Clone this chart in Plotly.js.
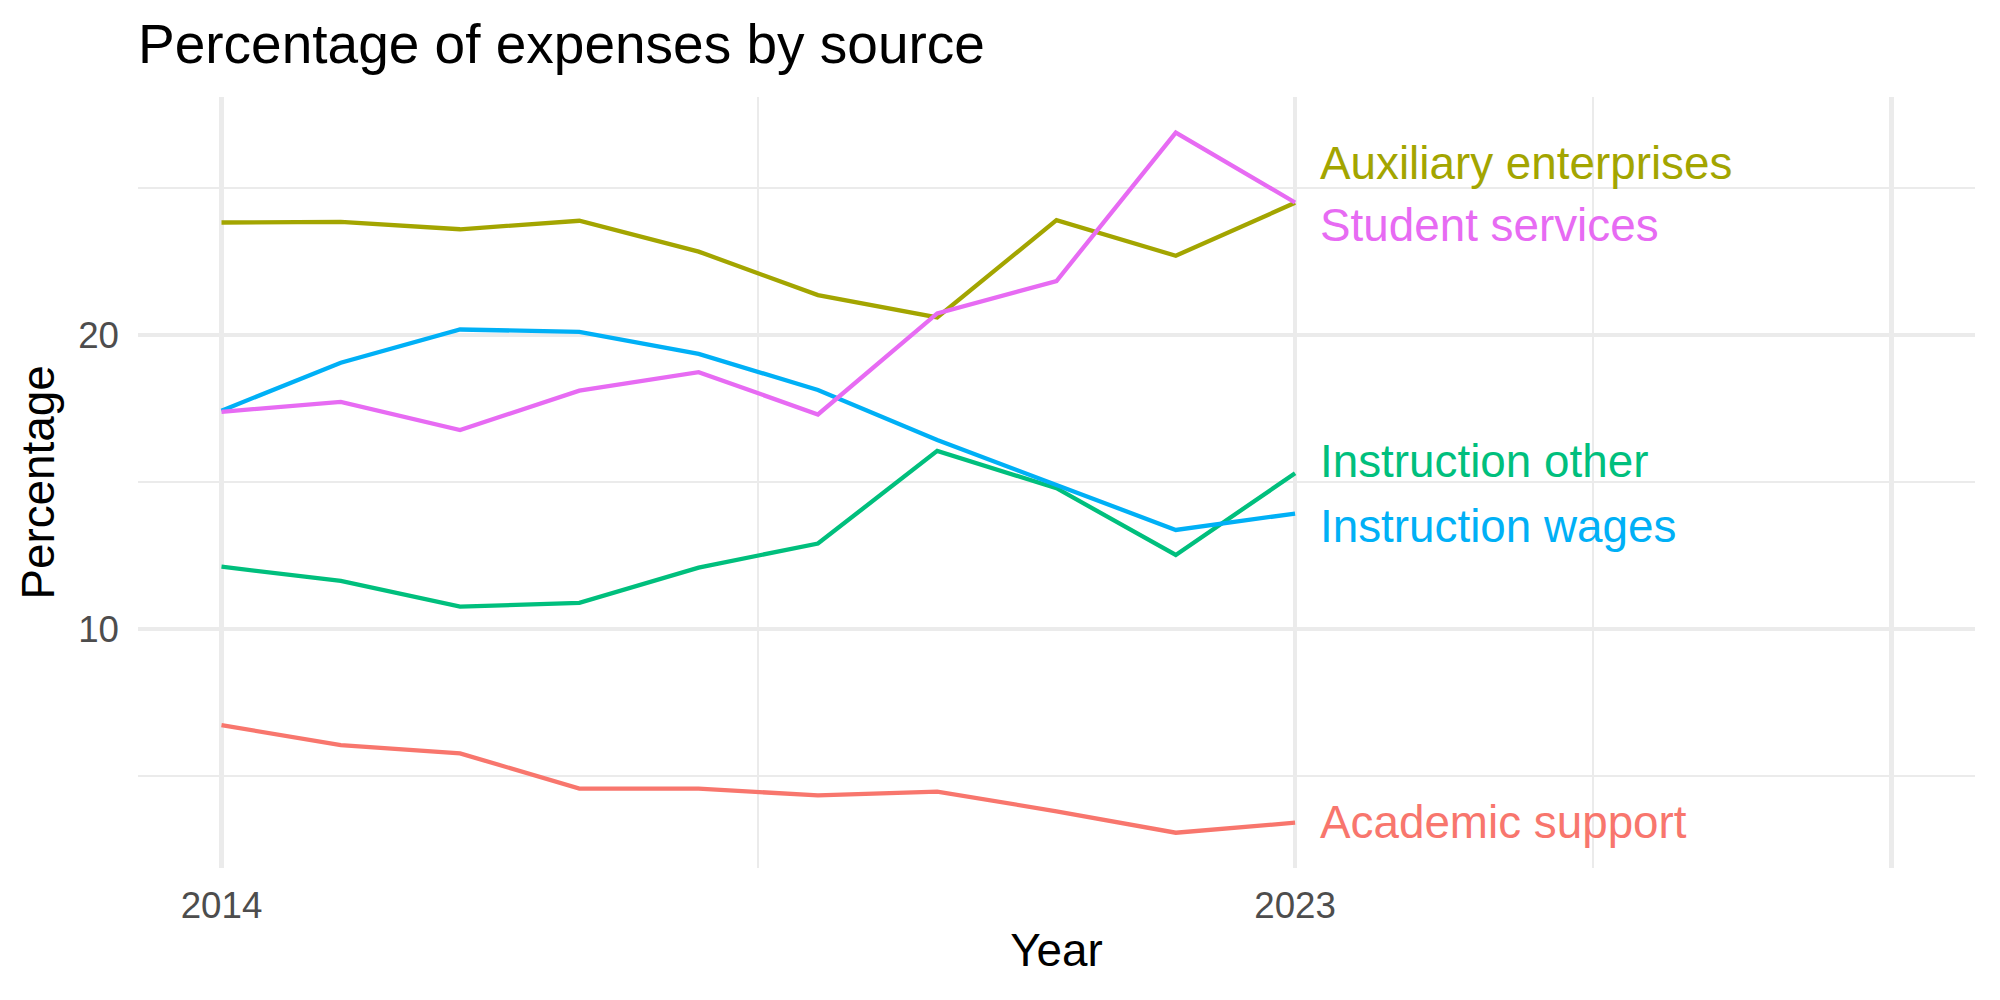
<!DOCTYPE html>
<html>
<head>
<meta charset="utf-8">
<script src="https://cdn.plot.ly/plotly-3.0.1.min.js"></script>
<style>
  html, body { margin: 0; padding: 0; background: #ffffff; }
  #chart { width: 2000px; height: 1000px; }
</style>
</head>
<body>
<div id="chart"></div>
<script>
// ---- Data ----
const years = [2014, 2015, 2016, 2017, 2018, 2019, 2020, 2021, 2022, 2023];
const seriesNames = ["Academic support", "Auxiliary enterprises", "Instruction other", "Instruction wages", "Student services"];
const academicSupport      = [6.73, 6.05, 5.77, 4.57, 4.57, 4.34, 4.47, 3.80, 3.07, 3.41];
const auxiliaryEnterprises = [23.83, 23.85, 23.60, 23.89, 22.84, 21.36, 20.60, 23.91, 22.70, 24.50];
const instructionOther     = [12.12, 11.64, 10.76, 10.89, 12.09, 12.91, 16.06, 14.79, 12.52, 15.30];
const instructionWages     = [17.43, 19.06, 20.19, 20.11, 19.36, 18.13, 16.43, 14.90, 13.37, 13.93];
const studentServices      = [17.39, 17.73, 16.77, 18.11, 18.74, 17.30, 20.74, 21.84, 26.89, 24.51];
const xTickValues = [2014, 2023, 2028];
const xTickLabels = ["2014", "2023", ""];
const xMinorValues = [2018.5, 2025.5];
const yTickValues = [10, 20];
const yTickLabels = ["10", "20"];
const yMinorValues = [5, 15, 25];

// ---- Styling ----
const colors = ["#F8766D", "#A3A500", "#00BF7D", "#00B0F6", "#E76BF3"];
const values = [academicSupport, auxiliaryEnterprises, instructionOther, instructionWages, studentServices];
// label placement (repelled end labels): vertical nudge in data units, horizontal nudge in years
const labelNudgeY = [0.0, 1.35, 0.39, -0.43, -0.77];
const labelNudgeX = 0.2;
const FONT = "Liberation Sans, Arial, Helvetica, sans-serif";

const traces = seriesNames.map((name, i) => ({
  type: "scatter",
  mode: "lines",
  name: name,
  x: years,
  y: values[i],
  line: { color: colors[i], width: 4.3 },
  hoverinfo: "x+y+name"
}));

const lastX = years[years.length - 1];
const annotations = seriesNames.map((name, i) => ({
  x: lastX + labelNudgeX,
  y: values[i][values[i].length - 1] + labelNudgeY[i],
  xref: "x", yref: "y",
  text: name,
  showarrow: false,
  xanchor: "left",
  yanchor: "middle",
  xshift: -1,
  font: { family: FONT, size: 45.8, color: colors[i] }
}));

const layout = {
  width: 2000,
  height: 1000,
  paper_bgcolor: "#ffffff",
  plot_bgcolor: "#ffffff",
  showlegend: false,
  margin: { l: 138, r: 25, t: 97, b: 132, pad: 0 },
  title: {
    text: "Percentage of expenses by source",
    font: { family: FONT, size: 55, color: "#000000" },
    xref: "paper", x: 0, xanchor: "left",
    yref: "container", y: 0.9567, yanchor: "middle"
  },
  xaxis: {
    range: [2013.3, 2028.7],
    tickmode: "array",
    tickvals: xTickValues,
    ticktext: xTickLabels,
    ticks: "",
    ticklabelstandoff: 12,
    tickfont: { family: FONT, size: 36.7, color: "#4D4D4D" },
    showgrid: true, gridcolor: "#EBEBEB", gridwidth: 4.4,
    minor: { tickmode: "array", tickvals: xMinorValues, showgrid: true, gridcolor: "#EBEBEB", gridwidth: 2.2, ticks: "" },
    zeroline: false, showline: false,
    title: { text: "Year", font: { family: FONT, size: 45.8, color: "#000000" }, standoff: 9 }
  },
  yaxis: {
    range: [1.87, 28.1],
    tickmode: "array",
    tickvals: yTickValues,
    ticktext: yTickLabels,
    ticks: "",
    ticklabelstandoff: 18,
    tickfont: { family: FONT, size: 36.7, color: "#4D4D4D" },
    showgrid: true, gridcolor: "#EBEBEB", gridwidth: 4.4,
    minor: { tickmode: "array", tickvals: yMinorValues, showgrid: true, gridcolor: "#EBEBEB", gridwidth: 2.2, ticks: "" },
    zeroline: false, showline: false,
    title: { text: "Percentage", font: { family: FONT, size: 45.8, color: "#000000" }, standoff: 9 }
  },
  annotations: annotations
};

Plotly.newPlot("chart", traces, layout, { displayModeBar: false, staticPlot: true });
</script>
</body>
</html>
